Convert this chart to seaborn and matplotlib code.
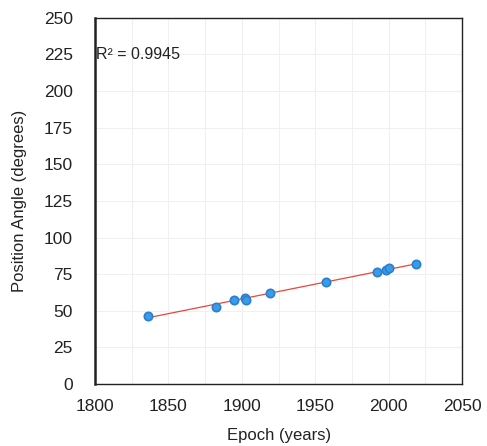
import matplotlib
matplotlib.use("Agg")
import matplotlib.pyplot as plt
import numpy as np
import pandas as pd
import seaborn as sns

epoch = [1836.3, 1882.4, 1894.9, 1902.2, 1903.0, 1919.0, 1957.0, 1992.0, 1998.0, 2000.0, 2018.4]
angle = [46.7, 52.8, 57.4, 59.0, 57.4, 62.2, 69.7, 76.7, 77.9, 79.0, 81.8]
r2_text = "R² = 0.9945"

ds = pd.DataFrame({"epoch": epoch, "angle": angle})

sns.set_style("white")
plt.rcParams['font.family'] = ['Liberation Sans', 'DejaVu Sans']

fig = plt.figure(figsize=(4.87, 4.46), dpi=100)
ax = fig.add_axes([0.195, 0.139, 0.754, 0.821])

# linear trendline
coef = np.polyfit(ds["epoch"], ds["angle"], 1)
xs = np.array([ds["epoch"].min(), ds["epoch"].max()])
ax.plot(xs, np.polyval(coef, xs), color="#e8463c", lw=0.9, zorder=2)

sns.scatterplot(data=ds, x="epoch", y="angle", ax=ax, s=36, color="#3a9be6",
                edgecolor="#2a7fd0", linewidth=1.2, zorder=3, legend=False)

ax.set_xlim(1800, 2050)
ax.set_ylim(0, 250)
ax.set_xticks(np.arange(1800, 2051, 50))
ax.set_xticks(np.arange(1800, 2051, 25), minor=True)
ax.set_yticks(np.arange(0, 251, 25))
ax.grid(True, which="both", color="#f0f0f0", lw=0.8)
ax.set_axisbelow(True)
ax.tick_params(axis="both", which="both", length=0, labelsize=12.5, labelcolor="#222222")
ax.tick_params(axis="x", pad=11)
ax.tick_params(axis="y", pad=16)

for sp in ax.spines.values():
    sp.set_color("#222222")
    sp.set_linewidth(1.0)
ax.spines["left"].set_linewidth(1.8)

ax.text(1801, 225, r2_text, fontsize=11.5, va="center", ha="left", color="#222222")

ax.set_xlabel("Epoch (years)", fontsize=12, labelpad=10, color="#222222")
ax.set_ylabel("Position Angle (degrees)", fontsize=12, color="#222222")
ax.yaxis.set_label_coords(-0.185, 0.5)

fig.savefig("out.png", dpi=100)
